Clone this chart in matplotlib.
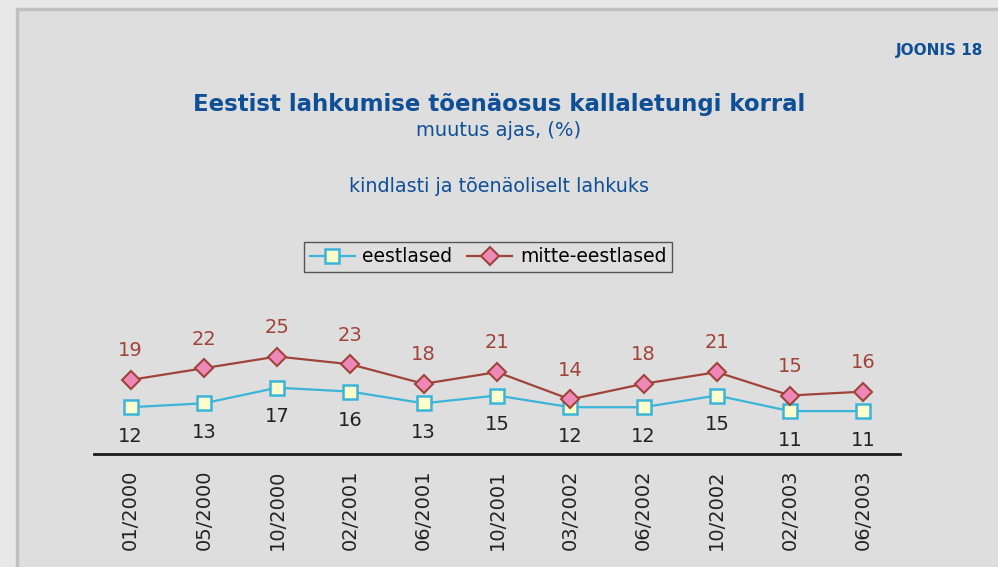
import numpy as np
import matplotlib.pyplot as plt
from matplotlib.patches import Rectangle

# survey dates and shares (%)
dates = ['01/2000', '05/2000', '10/2000', '02/2001', '06/2001', '10/2001',
         '03/2002', '06/2002', '10/2002', '02/2003', '06/2003']
eestlased = [12, 13, 17, 16, 13, 15, 12, 12, 15, 11, 11]
mitte_eestlased = [19, 22, 25, 23, 18, 21, 14, 18, 21, 15, 16]

blue = '#0f4f96'
cyan = '#3ab4d8'
brown = '#a0443a'

fig = plt.figure(figsize=(9.98, 5.67), dpi=100, facecolor='#e8e8e8')

# grey panel with border
fig.patches.append(Rectangle((17 / 998, -0.05), 1.1, (567 - 9) / 567 + 0.05,
                             transform=fig.transFigure, facecolor='#dedede',
                             edgecolor='#c0c0c0', linewidth=2.5, zorder=-5))

ax = fig.add_axes([94 / 998, (567 - 454) / 567, (900 - 94) / 998, (454 - 64) / 567])
ax.set_facecolor('none')

x = np.arange(len(dates))
l1, = ax.plot(x, eestlased, color=cyan, lw=1.6, marker='s', markersize=10.5,
              markerfacecolor='#ffffcc', markeredgecolor=cyan, markeredgewidth=1.8,
              label='eestlased', zorder=3)
l2, = ax.plot(x, mitte_eestlased, color=brown, lw=1.6, marker='D', markersize=9,
              markerfacecolor='#ee88b8', markeredgecolor=brown, markeredgewidth=1.5,
              label='mitte-eestlased', zorder=3)

for xi, v in zip(x, eestlased):
    ax.annotate(str(v), (xi, v), xytext=(0, -21), textcoords='offset points',
                ha='center', va='center', fontsize=14, color='#222222')
for xi, v in zip(x, mitte_eestlased):
    ax.annotate(str(v), (xi, v), xytext=(0, 21), textcoords='offset points',
                ha='center', va='center', fontsize=14, color=brown)

ax.set_xlim(-0.5, len(dates) - 0.5)
ax.set_ylim(0, 100)
ax.set_xticks(x)
ax.set_xticklabels(dates, rotation=90, fontsize=14, color='#222222')
ax.tick_params(axis='x', length=0, pad=11)
ax.set_yticks([])
for s in ['top', 'right', 'left']:
    ax.spines[s].set_visible(False)
ax.spines['bottom'].set_linewidth(2)
ax.spines['bottom'].set_color('#1a1a1a')

fig.legend(handles=[l1, l2], loc='center', bbox_to_anchor=(488 / 998, 1 - 257 / 567),
           ncol=2, fontsize=13.5, frameon=True, fancybox=False, edgecolor='#333333',
           facecolor='#dedede', handlelength=2.4, handletextpad=0.4,
           columnspacing=0.8, borderpad=0.3, borderaxespad=0)

fig.text(0.5, 1 - 104 / 567, 'Eestist lahkumise tõenäosus kallaletungi korral',
         ha='center', va='center', fontsize=16.5, fontweight='bold', color=blue)
fig.text(0.5, 1 - 130 / 567, 'muutus ajas, (%)', ha='center', va='center',
         fontsize=14, color=blue)
fig.text(0.5, 1 - 186 / 567, 'kindlasti ja tõenäoliselt lahkuks', ha='center',
         va='center', fontsize=13.8, color=blue)
fig.text(983 / 998, 1 - 50 / 567, 'JOONIS 18', ha='right', va='center',
         fontsize=11, fontweight='bold', color=blue)

plt.savefig('out.png', dpi=100, facecolor=fig.get_facecolor())
plt.close()
